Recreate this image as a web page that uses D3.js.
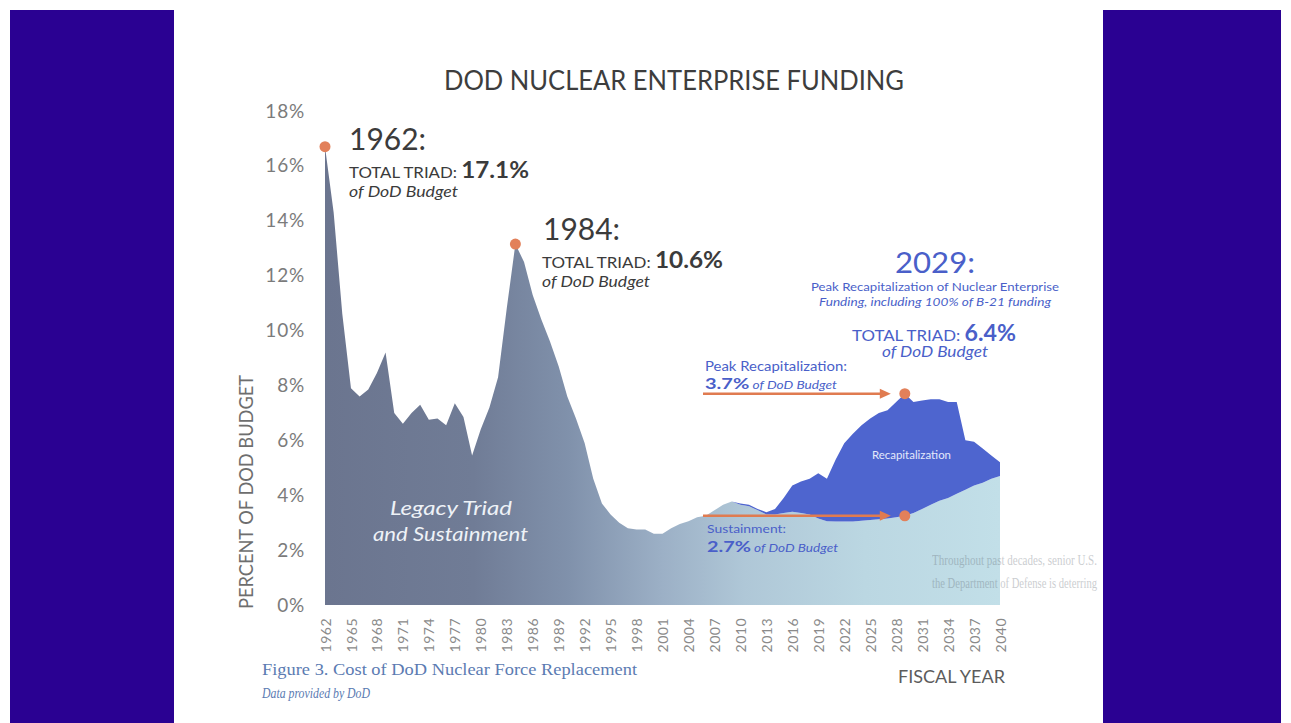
<!DOCTYPE html>
<html><head><meta charset="utf-8">
<script src="https://cdn.jsdelivr.net/npm/d3@7/dist/d3.min.js"></script>
<style>html,body{margin:0;padding:0;background:#fff;overflow:hidden}</style>
</head><body><svg id="c" width="1291" height="723"></svg>
<script>
// ---- data ----
const years = d3.range(1962, 2041);
const legacySustainment = [16.7,14.3,10.6,7.9,7.6,7.85,8.45,9.2,7.0,6.6,
  7.0,7.3,6.75,6.8,6.55,7.35,6.85,5.45,6.4,7.2,
  8.3,10.8,13.15,12.5,11.3,10.4,9.6,8.7,7.6,6.8,
  5.9,4.6,3.7,3.3,3.0,2.8,2.75,2.75,2.6,2.6,
  2.8,2.95,3.05,3.2,3.25,3.45,3.65,3.77,3.65,3.6,
  3.45,3.3,3.3,3.35,3.4,3.35,3.3,3.15,3.05,3.04,
  3.04,3.04,3.07,3.1,3.12,3.15,3.2,3.25,3.35,3.5,
  3.65,3.8,3.9,4.05,4.2,4.35,4.45,4.6,4.7];
const recapYears = d3.range(2010, 2041);
const recapitalization = [0.05,0.05,0.05,0.08,0.2,0.55,0.95,1.15,1.3,1.65,
  1.55,2.25,2.85,3.2,3.48,3.7,3.88,3.95,4.2,4.45,
  4.05,3.95,3.85,3.7,3.5,3.35,1.8,1.6,1.25,0.85,0.5];
const yTicks = [0,2,4,6,8,10,12,14,16,18];
const xTickYears = d3.range(1962, 2041, 3);

// ---- setup ----
const W = 1291, H = 723;
const svg = d3.select('#c');
svg.append('rect').attr('width', W).attr('height', H).attr('fill', '#ffffff');

const x = d3.scaleLinear().domain([1962, 2040]).range([325, 1000]);
const y = d3.scaleLinear().domain([0, 18]).range([605, 111]);

const SANS = 'Lato, "Open Sans", sans-serif';
const SERIF = '"Liberation Serif", "DejaVu Serif", serif';

// gradient for legacy/sustainment layer
const defs = svg.append('defs');
const grad = defs.append('linearGradient').attr('id', 'lg')
  .attr('gradientUnits', 'userSpaceOnUse')
  .attr('x1', x(1962)).attr('x2', x(2040)).attr('y1', 0).attr('y2', 0);
[[0, '#6b758f'], [0.22, '#707c96'], [0.36, '#8091ab'], [0.5, '#9cb0c6'],
 [0.62, '#afc7d7'], [0.8, '#bbd7e2'], [1, '#c2dfe8']].forEach(([o, c]) =>
  grad.append('stop').attr('offset', o).attr('stop-color', c));

const recMap = new Map(recapYears.map((yr, i) => [yr, recapitalization[i]]));
const rows = years.map((yr, i) => ({ year: yr, sustain: legacySustainment[i], recap: recMap.get(yr) || 0 }));
const stacked = d3.stack().keys(['sustain', 'recap'])(rows);
const area = d3.area().x(d => x(d.data.year)).y0(d => y(d[0])).y1(d => y(d[1]));

svg.append('path').datum(stacked[0]).attr('d', area).attr('fill', 'url(#lg)');
svg.append('path').datum(stacked[1].filter(d => d.data.year >= 2009)).attr('d', area).attr('fill', '#4e65cf');

// faint show-through text from the scanned page
const bleed = svg.append('g').attr('font-family', SERIF).attr('font-size', 15).attr('fill', '#5d6670').attr('opacity', 0.32);
bleed.append('text').attr('x', 932).attr('y', 565).attr('textLength', 165).attr('lengthAdjust', 'spacingAndGlyphs')
  .text('Throughout past decades, senior U.S.');
bleed.append('text').attr('x', 932).attr('y', 588).attr('textLength', 165).attr('lengthAdjust', 'spacingAndGlyphs')
  .text('the Department of Defense is deterring');

// ---- axes ----
const yAxis = svg.append('g').attr('transform', 'translate(305,0)')
  .call(d3.axisLeft(y).tickValues(yTicks).tickFormat(d => d + '%').tickSize(0).tickPadding(0));
yAxis.select('.domain').remove();
yAxis.selectAll('text').attr('font-family', SANS).attr('font-size', 19).attr('fill', '#7b7b7b')
  .attr('letter-spacing', '0.8px');

const xAxis = svg.append('g').attr('transform', 'translate(0,605)')
  .call(d3.axisBottom(x).tickValues(xTickYears).tickFormat(d3.format('d')).tickSize(0));
xAxis.select('.domain').remove();
xAxis.selectAll('text').attr('font-family', SANS).attr('font-size', 14).attr('fill', '#8a8a8a')
  .attr('transform', 'rotate(-90)').attr('text-anchor', 'end')
  .attr('x', -13).attr('y', 0).attr('dy', '0.36em').attr('letter-spacing', '0.5px');

// axis titles
svg.append('text').attr('transform', 'translate(253,492) rotate(-90)').attr('text-anchor', 'middle')
  .attr('font-family', SANS).attr('font-size', 19).attr('fill', '#6e6e6e')
  .attr('textLength', 234).attr('lengthAdjust', 'spacingAndGlyphs').text('PERCENT OF DOD BUDGET');
svg.append('text').attr('x', 898).attr('y', 683).attr('font-family', SANS).attr('font-size', 17)
  .attr('fill', '#5c5c5c').attr('textLength', 107).attr('lengthAdjust', 'spacingAndGlyphs').text('FISCAL YEAR');

// title
svg.append('text').attr('x', 444).attr('y', 90).attr('font-family', SANS).attr('font-size', 27)
  .attr('fill', '#3d3d3d').attr('textLength', 460).attr('lengthAdjust', 'spacingAndGlyphs')
  .text('DOD NUCLEAR ENTERPRISE FUNDING');

// figure caption
svg.append('text').attr('x', 262).attr('y', 675).attr('font-family', SERIF).attr('font-size', 16)
  .attr('fill', '#5b7bb2').attr('textLength', 375).attr('lengthAdjust', 'spacingAndGlyphs')
  .text('Figure 3. Cost of DoD Nuclear Force Replacement');
svg.append('text').attr('x', 262).attr('y', 698).attr('font-family', SERIF).attr('font-size', 14)
  .attr('font-style', 'italic').attr('fill', '#5b7bb2').attr('textLength', 108).attr('lengthAdjust', 'spacingAndGlyphs')
  .text('Data provided by DoD');

// in-area labels
const la = svg.append('g').attr('font-family', SANS).attr('font-style', 'italic').attr('font-size', 20).attr('fill', '#eef2f7');
la.append('text').attr('x', 390).attr('y', 515).attr('textLength', 122).attr('lengthAdjust', 'spacingAndGlyphs').text('Legacy Triad');
la.append('text').attr('x', 373).attr('y', 541).attr('textLength', 155).attr('lengthAdjust', 'spacingAndGlyphs').text('and Sustainment');
svg.append('text').attr('x', 872).attr('y', 459).attr('font-family', SANS).attr('font-size', 10.5).attr('fill', '#e4e9fb')
  .attr('textLength', 79).attr('lengthAdjust', 'spacingAndGlyphs').text('Recapitalization');

// ---- annotations ----
const DARK = '#3b3b3b', BLUE = '#4a5fc9', ORANGE = '#e07b50';
function yearLabel(g, x0, y0, year, anchor) {
  g.append('text').attr('x', x0).attr('y', y0).attr('font-size', 31).attr('text-anchor', anchor)
    .attr('textLength', 77).attr('lengthAdjust', 'spacingAndGlyphs').text(year + ':');
}
// 1962
const g62 = svg.append('g').attr('font-family', SANS).attr('fill', DARK);
yearLabel(g62, 349, 150, '1962', 'start');
const t62 = g62.append('text').attr('x', 349).attr('y', 178).attr('textLength', 180).attr('lengthAdjust', 'spacingAndGlyphs');
t62.append('tspan').attr('font-size', 16).text('TOTAL TRIAD: ');
t62.append('tspan').attr('font-size', 23).attr('font-weight', 'bold').text('17.1%');
g62.append('text').attr('x', 349).attr('y', 197).attr('font-size', 15).attr('font-style', 'italic')
  .attr('textLength', 109).attr('lengthAdjust', 'spacingAndGlyphs').text('of DoD Budget');
// 1984
const g84 = svg.append('g').attr('font-family', SANS).attr('fill', DARK);
yearLabel(g84, 543, 240, '1984', 'start');
const t84 = g84.append('text').attr('x', 542).attr('y', 268).attr('textLength', 181).attr('lengthAdjust', 'spacingAndGlyphs');
t84.append('tspan').attr('font-size', 16).text('TOTAL TRIAD: ');
t84.append('tspan').attr('font-size', 23).attr('font-weight', 'bold').text('10.6%');
g84.append('text').attr('x', 542).attr('y', 287).attr('font-size', 15).attr('font-style', 'italic')
  .attr('textLength', 108).attr('lengthAdjust', 'spacingAndGlyphs').text('of DoD Budget');
// 2029
const g29 = svg.append('g').attr('font-family', SANS).attr('fill', BLUE);
g29.append('text').attr('x', 935).attr('y', 273).attr('text-anchor', 'middle').attr('font-size', 29)
  .attr('textLength', 80).attr('lengthAdjust', 'spacingAndGlyphs').text('2029:');
g29.append('text').attr('x', 935).attr('y', 291).attr('text-anchor', 'middle').attr('font-size', 11)
  .attr('textLength', 248).attr('lengthAdjust', 'spacingAndGlyphs').text('Peak Recapitalization of Nuclear Enterprise');
g29.append('text').attr('x', 935).attr('y', 306).attr('text-anchor', 'middle').attr('font-size', 11).attr('font-style', 'italic')
  .attr('textLength', 232).attr('lengthAdjust', 'spacingAndGlyphs').text('Funding, including 100% of B-21 funding');
const t29 = g29.append('text').attr('x', 852).attr('y', 341).attr('textLength', 164).attr('lengthAdjust', 'spacingAndGlyphs');
t29.append('tspan').attr('font-size', 16).text('TOTAL TRIAD: ');
t29.append('tspan').attr('font-size', 22).attr('font-weight', 'bold').text('6.4%');
g29.append('text').attr('x', 882).attr('y', 357).attr('font-size', 15).attr('font-style', 'italic')
  .attr('textLength', 106).attr('lengthAdjust', 'spacingAndGlyphs').text('of DoD Budget');

// peak recap / sustainment labels
const gp = svg.append('g').attr('font-family', SANS).attr('fill', BLUE);
gp.append('text').attr('x', 705).attr('y', 371).attr('font-size', 12.5)
  .attr('textLength', 142).attr('lengthAdjust', 'spacingAndGlyphs').text('Peak Recapitalization:');
const tp = gp.append('text').attr('x', 705).attr('y', 389).attr('textLength', 132).attr('lengthAdjust', 'spacingAndGlyphs');
tp.append('tspan').attr('font-size', 16).attr('font-weight', 'bold').text('3.7%');
tp.append('tspan').attr('font-size', 11).attr('font-style', 'italic').text(' of DoD Budget');
gp.append('text').attr('x', 707).attr('y', 533).attr('font-size', 12)
  .attr('textLength', 79).attr('lengthAdjust', 'spacingAndGlyphs').text('Sustainment:');
const ts = gp.append('text').attr('x', 707).attr('y', 552).attr('textLength', 131).attr('lengthAdjust', 'spacingAndGlyphs');
ts.append('tspan').attr('font-size', 16).attr('font-weight', 'bold').text('2.7%');
ts.append('tspan').attr('font-size', 11).attr('font-style', 'italic').text(' of DoD Budget');

// arrows
const i29 = 2029 - 1962;
const totalY = y(rows[i29].sustain + rows[i29].recap);
const sustY = y(rows[i29].sustain);
function arrow(yy, xEnd) {
  svg.append('line').attr('x1', 703).attr('x2', xEnd - 8).attr('y1', yy).attr('y2', yy)
    .attr('stroke', ORANGE).attr('stroke-width', 2.5);
  svg.append('path').attr('d', `M${xEnd},${yy} L${xEnd - 11},${yy - 5} L${xEnd - 11},${yy + 5} Z`).attr('fill', ORANGE);
}
arrow(totalY, x(2029) - 14);
arrow(sustY, x(2029) - 14);

// dots
const dots = [
  [1962, rows[0].sustain],
  [1984, rows[1984 - 1962].sustain],
  [2029, rows[i29].sustain + rows[i29].recap],
  [2029, rows[i29].sustain]
];
svg.selectAll('circle.dot').data(dots).join('circle').attr('class', 'dot')
  .attr('cx', d => x(d[0])).attr('cy', d => y(d[1])).attr('r', 5.5).attr('fill', '#e2805a');

// purple side bars (frame of the picture)
svg.append('rect').attr('x', 10).attr('y', 10).attr('width', 164).attr('height', H - 10).attr('fill', '#2a0192');
svg.append('rect').attr('x', 1103).attr('y', 10).attr('width', 178).attr('height', H - 10).attr('fill', '#2a0192');
</script>
</body></html>
